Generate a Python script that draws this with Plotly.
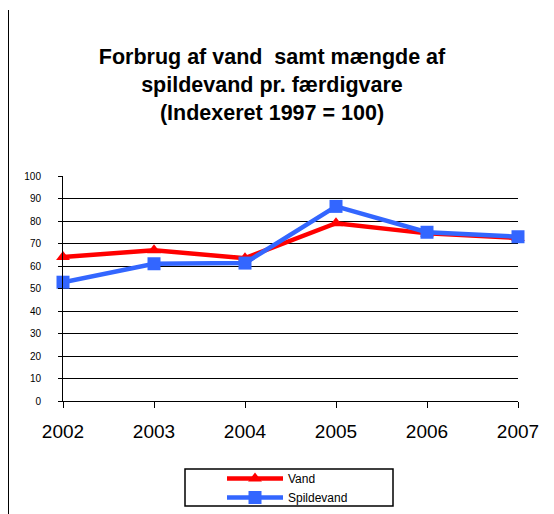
import plotly.graph_objects as go

years = [2002, 2003, 2004, 2005, 2006, 2007]
vand = [64, 67, 63.5, 79, 74.5, 72.5]
spildevand = [52.8, 61, 61.3, 86.5, 75, 73]
y_ticks = [0, 10, 20, 30, 40, 50, 60, 70, 80, 90, 100]

# page offset of the plot div (body margin)
OX, OY = 8, 8
W, H = 554 - OX, 514 - OY
L, R = 63 - OX, 36
T = 176 - OY
B = H - (401 - OY)
pw, ph = W - L - R, H - T - B

def px(x):
    return (x - OX - L) / pw

def py(y):
    return (H - B - (y - OY)) / ph

def cx(x):
    return (x - OX) / W

def cy(y):
    return 1 - (y - OY) / H

fig = go.Figure()
fig.add_trace(go.Scatter(
    x=years, y=vand, name="Vand", mode="lines+markers",
    line=dict(color="#FF0000", width=4.5),
    marker=dict(symbol="triangle-up", size=12, color="#FF0000"),
    cliponaxis=False,
))
fig.add_trace(go.Scatter(
    x=years, y=spildevand, name="Spildevand", mode="lines+markers",
    line=dict(color="#3366FF", width=4.5),
    marker=dict(symbol="square", size=13, color="#3366FF"),
    cliponaxis=False,
))

fig.update_layout(
    width=W, height=H,
    margin=dict(l=L, r=R, t=T, b=B, autoexpand=False),
    paper_bgcolor="white", plot_bgcolor="white",
    font=dict(family="Liberation Sans, Arial", color="black"),
    title=dict(
        text="<b>Forbrug af vand\u00a0 samt mængde af<br>spildevand pr. færdigvare<br>(Indexeret 1997 = 100)</b>",
        x=cx(272), xanchor="center", y=1 - 56 / H, yanchor="middle", yref="container",
        font=dict(size=21.5, color="black"),
    ),
    xaxis=dict(
        range=[2002, 2007], tickmode="array", tickvals=years,
        ticktext=[str(y) for y in years],
        showgrid=False, showline=True, linecolor="black", linewidth=1,
        ticks="outside", ticklen=6, tickcolor="black",
        tickfont=dict(size=19, color="black"), ticklabelstandoff=7,
        zeroline=False,
    ),
    yaxis=dict(
        range=[0, 100], tickmode="array", tickvals=y_ticks,
        showgrid=True, gridcolor="black", gridwidth=1,
        showline=True, linecolor="black", linewidth=1,
        ticks="outside", ticklen=4, tickcolor="black",
        tickfont=dict(size=10, color="black"), ticklabelstandoff=15,
        zeroline=False,
    ),
    showlegend=True,
    legend=dict(
        xref="container", yref="container",
        x=cx(222), xanchor="left", y=cy(464), yanchor="top",
        bgcolor="rgba(0,0,0,0)", borderwidth=0,
        font=dict(size=12, color="black"), itemwidth=56,
        tracegroupgap=0,
    ),
    shapes=[
        dict(type="rect", xref="paper", yref="paper",
             x0=px(185), x1=px(393), y0=py(469), y1=py(506),
             line=dict(color="black", width=1.5), fillcolor="rgba(0,0,0,0)"),
        dict(type="line", xref="paper", yref="paper",
             x0=px(8), x1=px(8), y0=py(10), y1=py(514),
             line=dict(color="black", width=2)),
    ],
)

fig.write_html("out.html")
